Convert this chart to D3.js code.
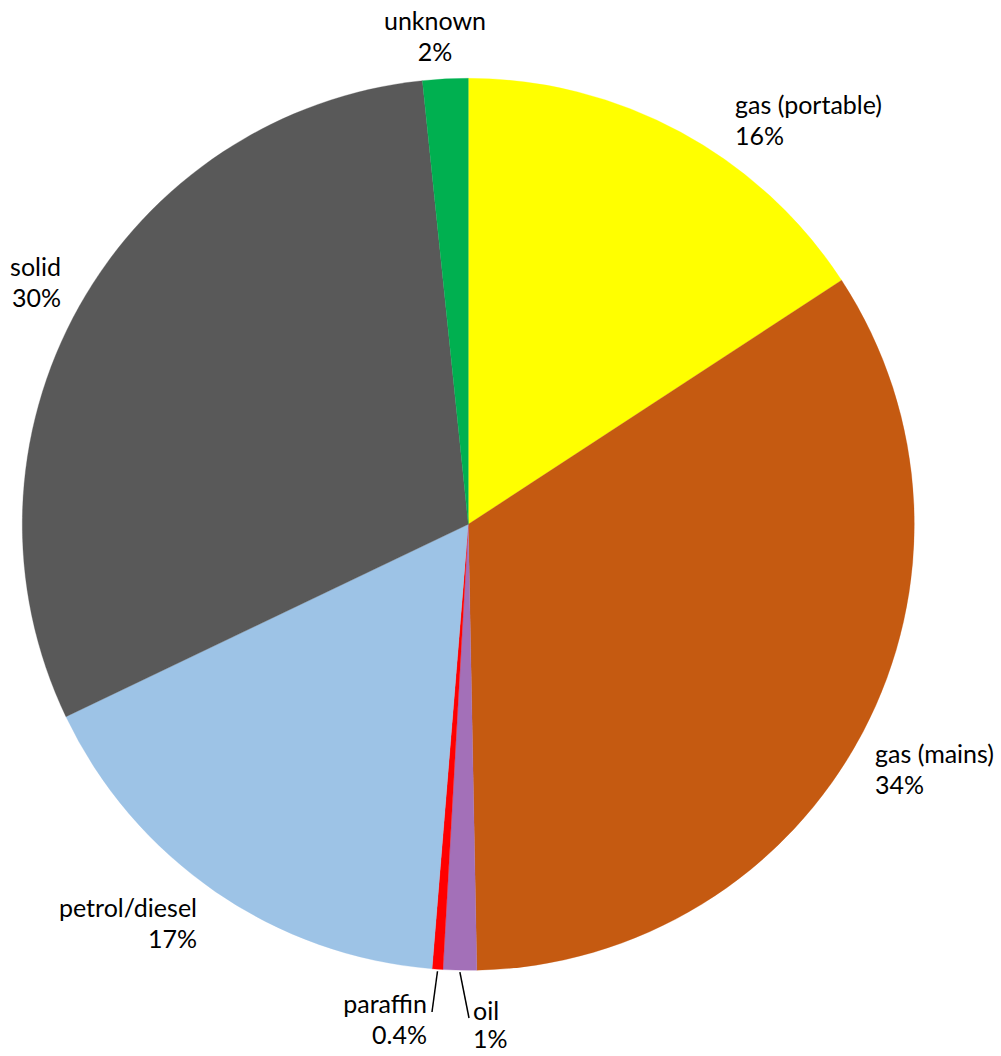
<!DOCTYPE html>
<html>
<head>
<meta charset="utf-8">
<script src="https://cdn.jsdelivr.net/npm/d3@7"></script>
<style>
  html, body { margin: 0; padding: 0; background: #fff; }
  svg { display: block; }
  text { font-family: Lato, "Open Sans", sans-serif; font-size: 25px; fill: #000; }
</style>
</head>
<body>
<svg id="chart" width="1001" height="1056"></svg>
<script>
// ---- data ----
const categories = ["gas (portable)", "gas (mains)", "oil", "paraffin", "petrol/diesel", "solid", "unknown"];
const values = [15.78, 33.9, 1.21, 0.39, 16.6, 30.45, 1.64];
const percentLabels = ["16%", "34%", "1%", "0.4%", "17%", "30%", "2%"];
const colors = ["#FFFF00", "#C55A11", "#A370B8", "#FF0000", "#9DC3E6", "#595959", "#00B050"];

// ---- layout (label placement, not data) ----
const labelLayout = [
  { x: 735, y: 113.5, anchor: "start", gap: 31 },
  { x: 875, y: 763, anchor: "start", gap: 31 },
  { x: 473, y: 1020, anchor: "start", gap: 28, leader: true },
  { x: 427, y: 1013, anchor: "end", gap: 31, leader: true },
  { x: 197, y: 917, anchor: "end", gap: 31 },
  { x: 61, y: 276, anchor: "end", gap: 31 },
  { x: 435, y: 30, anchor: "middle", gap: 31 }
];

const cx = 468.3, cy = 524.3, R = 446;
const svg = d3.select("#chart");
const g = svg.append("g").attr("transform", `translate(${cx},${cy})`);

const data = categories.map((c, i) => ({ name: c, value: values[i], pct: percentLabels[i], color: colors[i], lay: labelLayout[i] }));

const pie = d3.pie().value(d => d.value).sort(null).startAngle(0).endAngle(2 * Math.PI);
const arcs = pie(data);
const arc = d3.arc().innerRadius(0).outerRadius(R);

g.selectAll("path.slice").data(arcs).join("path")
  .attr("class", "slice")
  .attr("d", arc)
  .attr("fill", d => d.data.color)
  .attr("stroke", d => d.data.color)
  .attr("stroke-width", 0.3);

// leader lines
arcs.filter(d => d.data.lay.leader).forEach(d => {
  const mid = (d.startAngle + d.endAngle) / 2;
  const sx = R * Math.sin(mid), sy = -R * Math.cos(mid);
  const L = d.data.lay;
  let ex, ey;
  if (L.anchor === "end") { ex = L.x - cx + 5; ey = L.y - cy - 1; }
  else { ex = L.x - cx - 4; ey = L.y - cy - 2; }
  g.append("line")
    .attr("x1", sx).attr("y1", sy + 2)
    .attr("x2", ex).attr("y2", ey)
    .attr("stroke", "#000").attr("stroke-width", 1.5);
});

// labels
const lbl = svg.selectAll("text.lbl").data(data).join("text")
  .attr("class", "lbl")
  .attr("text-anchor", d => d.lay.anchor);
lbl.append("tspan").attr("x", d => d.lay.x).attr("y", d => d.lay.y).text(d => d.name);
lbl.append("tspan").attr("x", d => d.lay.x).attr("y", d => d.lay.y + d.lay.gap).text(d => d.pct);
</script>
</body>
</html>
